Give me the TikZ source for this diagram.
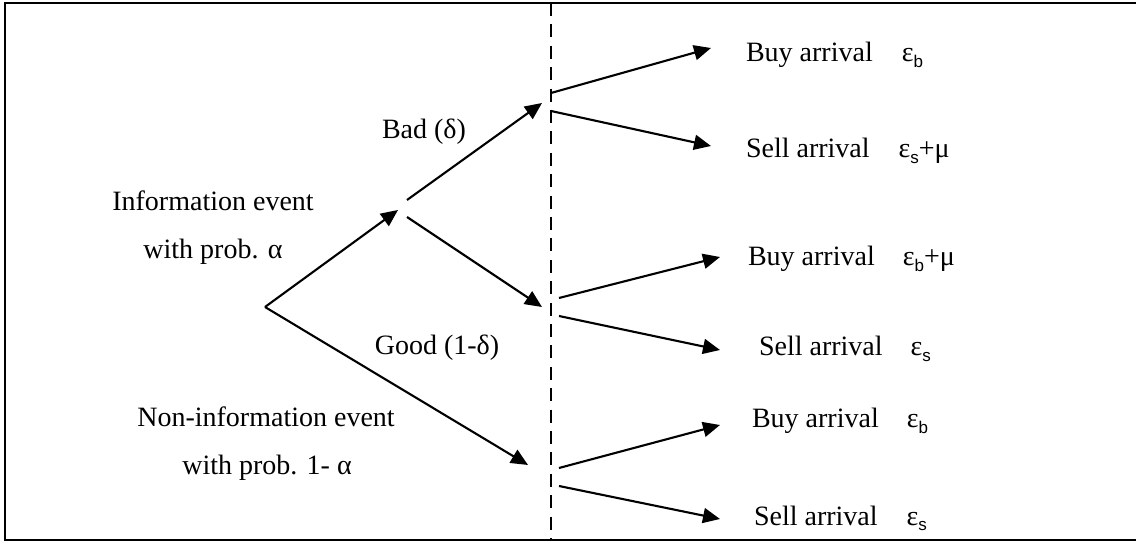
\documentclass[tikz,border=0pt]{standalone}
\usepackage{fontspec}
\setmainfont{Liberation Serif}
\setsansfont{Liberation Sans}
\usetikzlibrary{arrows.meta}
\newcommand{\mysub}[1]{\raisebox{-0.4ex}{\sffamily\fontsize{8.5}{9}\selectfont #1}}
\begin{document}
\begin{tikzpicture}[x=0.5pt,y=-0.5pt,line width=1.05pt,
  arr/.style={-{Triangle[length=8.5pt,width=7.5pt]}},
  lbl/.style={font=\fontsize{14}{16}\selectfont,inner sep=0pt,anchor=base},
  rlbl/.style={font=\fontsize{14}{16}\selectfont,inner sep=0pt,anchor=base west}]
\clip (0,0) rectangle (1136,545);
\draw[line width=1.4pt] (5,3) rectangle (1145,540);
\coordinate (dtop) at (551,3);
\coordinate (dbot) at (551,540);
\draw[dash pattern=on 6.5pt off 4.2pt] (dtop) -- (dbot);
% tree points
\coordinate (root) at (265,307);
\coordinate (infotip) at (398,210);
\coordinate (badstart) at (407,200);
\coordinate (badtip) at (542,103);
\coordinate (goodstart) at (407,217);
\coordinate (goodtip) at (542,307);
\coordinate (nonitip) at (528,465);
\coordinate (b1s) at (551,93);  \coordinate (b1t) at (711,48);
\coordinate (s1s) at (551,111); \coordinate (s1t) at (711,146);
\coordinate (b2s) at (559,298); \coordinate (b2t) at (720,257);
\coordinate (s2s) at (559,316); \coordinate (s2t) at (720,350);
\coordinate (b3s) at (559,468); \coordinate (b3t) at (720,425);
\coordinate (s3s) at (559,486); \coordinate (s3t) at (720,519);
\draw[arr] (root) -- (infotip);
\draw[arr] (root) -- (nonitip);
\draw[arr] (badstart) -- (badtip);
\draw[arr] (goodstart) -- (goodtip);
\draw[arr] (b1s) -- (b1t);
\draw[arr] (s1s) -- (s1t);
\draw[arr] (b2s) -- (b2t);
\draw[arr] (s2s) -- (s2t);
\draw[arr] (b3s) -- (b3t);
\draw[arr] (s3s) -- (s3t);
% labels
\node[lbl] (info1) at (213,211) {Information event};
\node[lbl] (info2) at (213,259) {with prob. α};
\node[lbl] (bad) at (424,139) {Bad (δ)};
\node[lbl] (good) at (437,355) {Good (1-δ)};
\node[lbl] (non1) at (266,427) {Non-information event};
\node[lbl] (non2) at (267,474) {with prob. 1- α};
\node[rlbl] (t1) at (745,62) {Buy arrival\hspace{14.5pt}ε\mysub{b}};
\node[rlbl] (t2) at (745,158) {Sell arrival\hspace{14.5pt}ε\mysub{s}+μ};
\node[rlbl] (t3) at (747,266) {Buy arrival\hspace{14pt}ε\mysub{b}+μ};
\node[rlbl] (t4) at (758,356) {Sell arrival\hspace{14pt}ε\mysub{s}};
\node[rlbl] (t5) at (751,428) {Buy arrival\hspace{14pt}ε\mysub{b}};
\node[rlbl] (t6) at (753,525) {Sell arrival\hspace{14.5pt}ε\mysub{s}};
\end{tikzpicture}
\end{document}
